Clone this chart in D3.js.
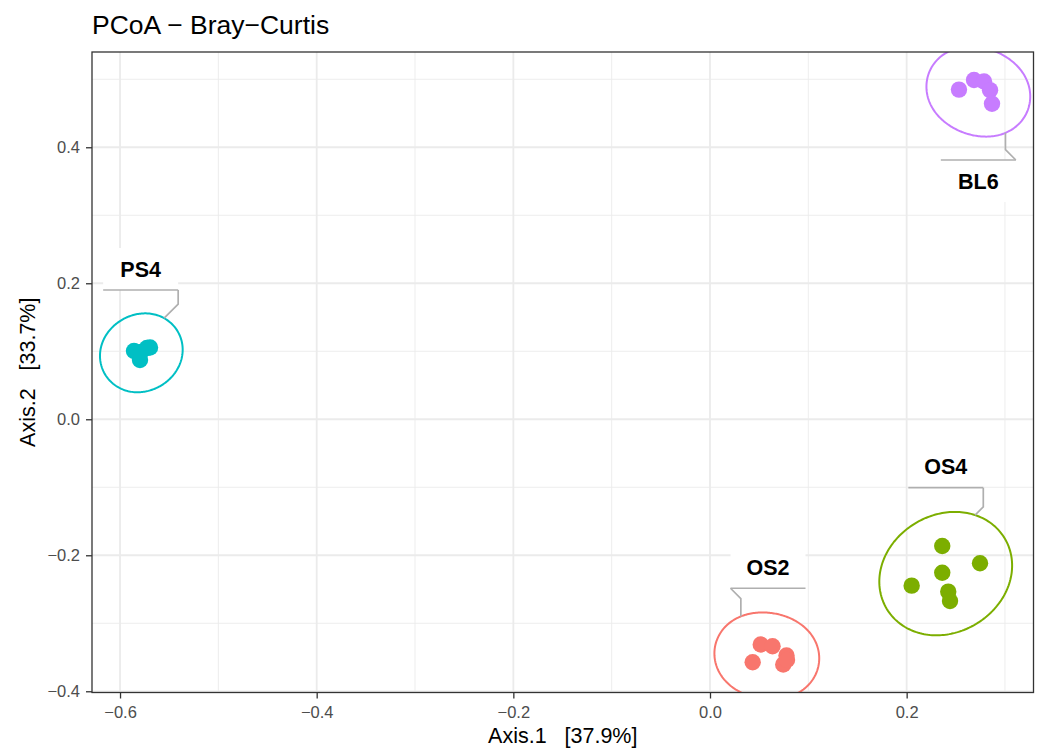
<!DOCTYPE html>
<html>
<head>
<meta charset="utf-8">
<title>PCoA - Bray-Curtis</title>
<script src="https://cdn.jsdelivr.net/npm/d3@7"></script>
<style>
  html, body { margin: 0; padding: 0; background: #ffffff; }
  svg { display: block; font-family: "Liberation Sans", Arial, Helvetica, sans-serif; }
</style>
</head>
<body>
<svg id="chart" width="1042" height="749"></svg>
<script>
// ---- data -------------------------------------------------------------
const groups = ["OS2", "OS4", "PS4", "BL6"];
const groupColours = ["#F8766D", "#7CAE00", "#00BFC4", "#C77CFF"];

const sampleGroup = [
  "OS2", "OS2", "OS2", "OS2", "OS2", "OS2",
  "OS4", "OS4", "OS4", "OS4", "OS4", "OS4",
  "PS4", "PS4", "PS4", "PS4", "PS4",
  "BL6", "BL6", "BL6", "BL6", "BL6"
];
const axis1 = [
  0.0434, 0.0516, 0.0636, 0.0778, 0.0745, 0.0783,
  0.2362, 0.2746, 0.2362, 0.2051, 0.2423, 0.2441,
  -0.5858, -0.5797, -0.5726, -0.5695, -0.5787,
  0.2532, 0.2685, 0.2787, 0.2848, 0.2868
];
const axis2 = [
  -0.3574, -0.3312, -0.3338, -0.3474, -0.3606, -0.3540,
  -0.1863, -0.2118, -0.2256, -0.2447, -0.2535, -0.2672,
  0.1004, 0.0872, 0.1049, 0.1056, 0.0990,
  0.4848, 0.4990, 0.4968, 0.4840, 0.4640
];

const xTicks = [-0.6, -0.4, -0.2, 0.0, 0.2];
const yTicks = [-0.4, -0.2, 0.0, 0.2, 0.4];
const xMinor = [-0.5, -0.3, -0.1, 0.1, 0.3];
const yMinor = [-0.3, -0.1, 0.1, 0.3, 0.5];

const titleText = "PCoA \u2212 Bray\u2212Curtis";
const xTitle = "Axis.1   [37.9%]";
const yTitle = "Axis.2   [33.7%]";

// label anchor (box centre, in axis units) and elbow order per group
const labelPlacement = {
  OS2: { at: [0.0590, -0.2176], diagonalFirst: true },
  OS4: { at: [0.2398, -0.0697], diagonalFirst: false },
  PS4: { at: [-0.5790, 0.2210], diagonalFirst: false },
  BL6: { at: [0.2729, 0.3504], diagonalFirst: true }
};

// ---- layout -----------------------------------------------------------
const panel = { left: 92, right: 1033.5, top: 52, bottom: 692.5 };
const x = d3.scaleLinear().domain([-0.6285, 0.3290]).range([panel.left, panel.right]);
const y = d3.scaleLinear().domain([-0.4018, 0.5401]).range([panel.bottom, panel.top]);
const colour = d3.scaleOrdinal().domain(groups).range(groupColours);

const svg = d3.select("#chart");

svg.append("text")
  .attr("x", 92).attr("y", 34)
  .attr("font-size", 26.5).attr("fill", "#000")
  .text(titleText);

svg.append("defs").append("clipPath").attr("id", "panel-clip")
  .append("rect")
  .attr("x", panel.left).attr("y", panel.top)
  .attr("width", panel.right - panel.left).attr("height", panel.bottom - panel.top);

// grid
const grid = svg.append("g");
grid.selectAll(".vminor").data(xMinor).join("line")
  .attr("x1", d => x(d)).attr("x2", d => x(d))
  .attr("y1", panel.top).attr("y2", panel.bottom)
  .attr("stroke", "#EBEBEB").attr("stroke-width", 0.9);
grid.selectAll(".hminor").data(yMinor).join("line")
  .attr("y1", d => y(d)).attr("y2", d => y(d))
  .attr("x1", panel.left).attr("x2", panel.right)
  .attr("stroke", "#EBEBEB").attr("stroke-width", 0.9);
grid.selectAll(".vmajor").data(xTicks).join("line")
  .attr("x1", d => x(d)).attr("x2", d => x(d))
  .attr("y1", panel.top).attr("y2", panel.bottom)
  .attr("stroke", "#EBEBEB").attr("stroke-width", 1.8);
grid.selectAll(".hmajor").data(yTicks).join("line")
  .attr("y1", d => y(d)).attr("y2", d => y(d))
  .attr("x1", panel.left).attr("x2", panel.right)
  .attr("stroke", "#EBEBEB").attr("stroke-width", 1.8);

// ---- enclosing ellipses (minimum-volume ellipse, expanded outward) ----
function inv3(m) {
  const [a, b, c, d, e, f, g, h, i] = m;
  const A = e * i - f * h, B = -(d * i - f * g), C = d * h - e * g;
  const det = a * A + b * B + c * C;
  return [
    A / det, -(b * i - c * h) / det, (b * f - c * e) / det,
    B / det, (a * i - c * g) / det, -(a * f - c * d) / det,
    C / det, -(a * h - b * g) / det, (a * e - b * d) / det
  ];
}

function mvee(pts, tol = 1e-6) {
  const n = pts.length;
  let u = new Array(n).fill(1 / n);
  for (let iter = 0; iter < 20000; iter++) {
    const X = new Array(9).fill(0);
    pts.forEach((p, k) => {
      const q = [p[0], p[1], 1];
      for (let r = 0; r < 3; r++) for (let s = 0; s < 3; s++) X[r * 3 + s] += u[k] * q[r] * q[s];
    });
    const Xi = inv3(X);
    let jMax = 0, mMax = -Infinity;
    pts.forEach((p, k) => {
      const q = [p[0], p[1], 1];
      let m = 0;
      for (let r = 0; r < 3; r++) for (let s = 0; s < 3; s++) m += q[r] * Xi[r * 3 + s] * q[s];
      if (m > mMax) { mMax = m; jMax = k; }
    });
    const step = (mMax - 3) / (3 * (mMax - 1));
    const nu = u.map(v => v * (1 - step));
    nu[jMax] += step;
    const err = Math.hypot(...nu.map((v, k) => v - u[k]));
    u = nu;
    if (err < tol) break;
  }
  let cx = 0, cy = 0;
  pts.forEach((p, k) => { cx += u[k] * p[0]; cy += u[k] * p[1]; });
  let sxx = 0, sxy = 0, syy = 0;
  pts.forEach((p, k) => {
    sxx += u[k] * p[0] * p[0]; sxy += u[k] * p[0] * p[1]; syy += u[k] * p[1] * p[1];
  });
  sxx -= cx * cx; sxy -= cx * cy; syy -= cy * cy;
  const det = sxx * syy - sxy * sxy;
  // A = inv(S) / 2
  const a = syy / det / 2, b = -sxy / det / 2, d = sxx / det / 2;
  const mean = (a + d) / 2, diff = Math.sqrt(((a - d) / 2) ** 2 + b * b);
  const l1 = mean - diff, l2 = mean + diff;       // l1 -> major axis
  const theta = 0.5 * Math.atan2(2 * b, a - d) + Math.PI / 2;
  return { cx, cy, r1: 1 / Math.sqrt(l1), r2: 1 / Math.sqrt(l2), theta };
}

const expandPx = 32;
function outline(e, n = 200) {
  const ct = Math.cos(e.theta), st = Math.sin(e.theta);
  return d3.range(n).map(k => {
    const t = (k / n) * 2 * Math.PI;
    const lx = e.r1 * Math.cos(t), ly = e.r2 * Math.sin(t);
    let nx = Math.cos(t) / e.r1, ny = Math.sin(t) / e.r2;
    const nl = Math.hypot(nx, ny); nx /= nl; ny /= nl;
    const px = lx + expandPx * nx, py = ly + expandPx * ny;
    return [e.cx + px * ct - py * st, e.cy + px * st + py * ct];
  });
}

const samples = sampleGroup.map((g, i) => ({ group: g, a1: axis1[i], a2: axis2[i] }));

const marks = groups.map(g => {
  const pts = samples.filter(s => s.group === g).map(s => [x(s.a1), y(s.a2)]);
  const ell = mvee(pts);
  return { group: g, ell, poly: outline(ell) };
});

const markLayer = svg.append("g").attr("clip-path", "url(#panel-clip)");
markLayer.selectAll("path.mark").data(marks).join("path")
  .attr("d", m => d3.line()(m.poly) + "Z")
  .attr("fill", "none")
  .attr("stroke", m => colour(m.group))
  .attr("stroke-width", 2);

// ---- labels with elbow connectors --------------------------------------
const boxW = 75, boxH = 42;
function closestOn(poly, p) {
  let best = null, bd = Infinity;
  poly.forEach(q => {
    const dd = Math.hypot(q[0] - p[0], q[1] - p[1]);
    if (dd < bd) { bd = dd; best = q; }
  });
  return { pt: best, dist: bd };
}

const labelLayer = svg.append("g");
marks.forEach(m => {
  const place = labelPlacement[m.group];
  const bx = x(place.at[0]), by = y(place.at[1]);
  const below = by < m.ell.cy;              // label above the ellipse -> border on its bottom
  const edgeY = below ? by + boxH / 2 : by - boxH / 2;
  const corners = [[bx - boxW / 2, edgeY], [bx + boxW / 2, edgeY]];
  const cands = corners.map(c => ({ c, ...closestOn(m.poly, c) }));
  const pick = cands[0].dist < cands[1].dist ? cands[0] : cands[1];
  const s = pick.c, e = pick.pt;
  const dx = e[0] - s[0], dy = e[1] - s[1];
  let elbow;
  if (Math.abs(dy) >= Math.abs(dx)) {
    const straight = (Math.abs(dy) - Math.abs(dx)) * Math.sign(dy);
    elbow = place.diagonalFirst ? [s[0] + dx, s[1] + dy - straight] : [s[0], s[1] + straight];
  } else {
    const straight = (Math.abs(dx) - Math.abs(dy)) * Math.sign(dx);
    elbow = place.diagonalFirst ? [s[0] + dx - straight, s[1] + dy] : [s[0] + straight, s[1]];
  }

  labelLayer.append("rect")
    .attr("x", bx - boxW / 2).attr("y", by - boxH / 2)
    .attr("width", boxW).attr("height", boxH)
    .attr("fill", "#ffffff");
  labelLayer.append("path")
    .attr("d", d3.line()([corners[0], corners[1]]))
    .attr("stroke", "#AFAFAF").attr("stroke-width", 1.7).attr("fill", "none");
  labelLayer.append("path")
    .attr("d", d3.line()([s, elbow, e]))
    .attr("stroke", "#AFAFAF").attr("stroke-width", 1.7).attr("fill", "none");
  labelLayer.append("text")
    .attr("x", bx).attr("y", by).attr("dy", "0.36em")
    .attr("text-anchor", "middle")
    .attr("font-size", 21.5).attr("font-weight", "bold").attr("fill", "#000")
    .text(m.group);
});

// ---- points -----------------------------------------------------------
svg.append("g").attr("clip-path", "url(#panel-clip)")
  .selectAll("circle").data(samples).join("circle")
  .attr("cx", d => x(d.a1)).attr("cy", d => y(d.a2))
  .attr("r", 8.2)
  .attr("fill", d => colour(d.group));

// panel border
svg.append("rect")
  .attr("x", panel.left).attr("y", panel.top)
  .attr("width", panel.right - panel.left).attr("height", panel.bottom - panel.top)
  .attr("fill", "none").attr("stroke", "#333333").attr("stroke-width", 1.3);

// ---- axes -------------------------------------------------------------
const fmt = d3.format(".1f");
const xAxis = svg.append("g")
  .attr("transform", `translate(0,${panel.bottom})`)
  .call(d3.axisBottom(x).tickValues(xTicks).tickFormat(fmt).tickSize(6).tickPadding(8));
const yAxis = svg.append("g")
  .attr("transform", `translate(${panel.left},0)`)
  .call(d3.axisLeft(y).tickValues(yTicks).tickFormat(fmt).tickSize(6).tickPadding(6));
[xAxis, yAxis].forEach(a => {
  a.select(".domain").remove();
  a.selectAll(".tick line").attr("stroke", "#333333").attr("stroke-width", 1.3);
  a.selectAll(".tick text").attr("fill", "#4D4D4D").attr("font-size", 16.5)
    .attr("font-family", "Liberation Sans, Arial, Helvetica, sans-serif");
});

svg.append("text")
  .attr("x", (panel.left + panel.right) / 2).attr("y", 743)
  .attr("text-anchor", "middle").attr("font-size", 21.5).attr("fill", "#000")
  .style("white-space", "pre")
  .text(xTitle);
svg.append("text")
  .attr("transform", `translate(35,${(panel.top + panel.bottom) / 2}) rotate(-90)`)
  .attr("text-anchor", "middle").attr("font-size", 21.5).attr("fill", "#000")
  .style("white-space", "pre")
  .text(yTitle);
</script>
</body>
</html>
